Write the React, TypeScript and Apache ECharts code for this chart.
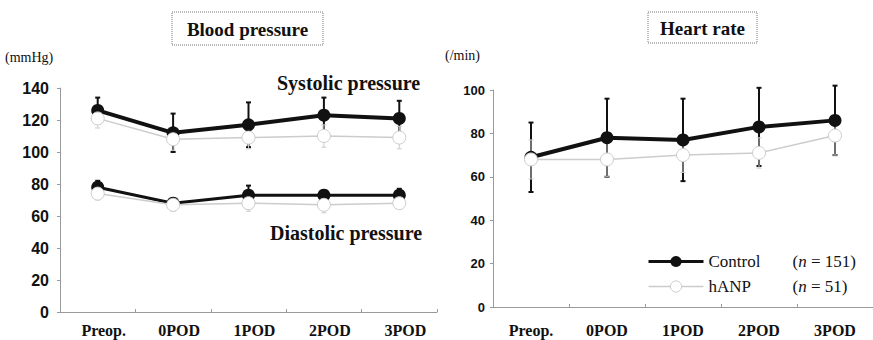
import React, { useEffect, useRef } from "react";
import * as echarts from "echarts";

const categories = ["Preop.", "0POD", "1POD", "2POD", "3POD"];

// Blood pressure (mmHg)
const sysControl = [126, 112, 117, 123, 121];
const sysControlSD = [8, 12, 14, 11, 11];
const sysHanp = [121, 108, 109, 110, 109];
const sysHanpSD = [6, 7, 7, 7, 7];
const diaControl = [78, 68, 73, 73, 73];
const diaControlSD = [4, 3, 6, 3, 4];
const diaHanp = [74, 67, 68, 67, 68];
const diaHanpSD = [4, 4, 5, 5, 3];

// Heart rate (/min)
const hrControl = [69, 78, 77, 83, 86];
const hrControlSD = [16, 18, 19, 18, 16];
const hrHanp = [68, 68, 70, 71, 79];
const hrHanpSD = [9, 8, 8, 7, 9];

const bpTicks = { min: 0, max: 140, interval: 20 };
const hrTicks = { min: 0, max: 100, interval: 20 };

const SERIF = "Liberation Serif";
const SANS = "Liberation Sans";

function errData(mean: number[], sd: number[]) {
  return mean.map((m, i) => [i, m - sd[i], m + sd[i]]);
}

function errSeries(
  name: string,
  mean: number[],
  sd: number[],
  axis: number,
  color: string,
  width: number,
  z: number
) {
  return {
    type: "custom",
    name: name + "-err",
    xAxisIndex: axis,
    yAxisIndex: axis,
    z,
    silent: true,
    data: errData(mean, sd),
    encode: { x: 0, y: [1, 2] },
    renderItem: (params: any, api: any) => {
      const x = api.value(0);
      const lo = api.coord([x, api.value(1)]);
      const hi = api.coord([x, api.value(2)]);
      const cap = 2.5;
      const style = { stroke: color, lineWidth: width };
      return {
        type: "group",
        children: [
          { type: "line", shape: { x1: lo[0], y1: lo[1], x2: hi[0], y2: hi[1] }, style },
          { type: "line", shape: { x1: hi[0] - cap, y1: hi[1], x2: hi[0] + cap, y2: hi[1] }, style },
          { type: "line", shape: { x1: lo[0] - cap, y1: lo[1], x2: lo[0] + cap, y2: lo[1] }, style },
        ],
      };
    },
  };
}

function controlLine(name: string, data: number[], axis: number, width: number) {
  return {
    type: "line",
    name,
    xAxisIndex: axis,
    yAxisIndex: axis,
    data,
    z: 3,
    symbol: "circle",
    symbolSize: 13,
    showSymbol: true,
    lineStyle: { color: "#111", width },
    itemStyle: { color: "#111", borderColor: "#111", borderWidth: 0 },
  };
}

function hanpLine(name: string, data: number[], axis: number) {
  return {
    type: "line",
    name,
    xAxisIndex: axis,
    yAxisIndex: axis,
    data,
    z: 5,
    symbol: "circle",
    symbolSize: 13,
    showSymbol: true,
    lineStyle: { color: "#cccccc", width: 1.5 },
    itemStyle: { color: "#ffffff", borderColor: "#cccccc", borderWidth: 1 },
  };
}

function xAxisDef(grid: number, margin: number, padLeft: number) {
  return {
    gridIndex: grid,
    type: "category",
    data: categories,
    boundaryGap: true,
    axisLine: { show: true, lineStyle: { color: "#9a9a9a", width: 1 } },
    axisTick: { show: true, inside: true, length: 3, lineStyle: { color: "#9a9a9a" } },
    axisLabel: {
      fontFamily: SERIF,
      fontWeight: "bold",
      fontSize: 16,
      color: "#111",
      margin,
      padding: [0, 0, 0, padLeft],
    },
    splitLine: { show: false },
  };
}

function yAxisDef(grid: number, ticks: any, fontSize: number, margin: number) {
  return {
    gridIndex: grid,
    type: "value",
    min: ticks.min,
    max: ticks.max,
    interval: ticks.interval,
    axisLine: { show: true, lineStyle: { color: "#9a9a9a", width: 1 } },
    axisTick: { show: true, inside: false, length: 3, lineStyle: { color: "#9a9a9a" } },
    axisLabel: { fontFamily: SANS, fontWeight: "bold", fontSize, color: "#111", margin },
    splitLine: { show: false },
  };
}

function label(text: string, x: number, y: number, size: number, bold: boolean, align = "left") {
  return {
    type: "text",
    x,
    y,
    style: {
      text,
      fontFamily: SERIF,
      fontSize: size,
      fontWeight: bold ? "bold" : "normal",
      fill: "#111",
      align,
      verticalAlign: "middle",
    },
  };
}

export default function App() {
  const ref = useRef<HTMLDivElement>(null);

  useEffect(() => {
    if (!ref.current) return;
    const chart = echarts.init(ref.current, undefined, { renderer: "svg" });

    const option: any = {
      animation: false,
      backgroundColor: "#ffffff",
      textStyle: { fontFamily: SERIF },
      grid: [
        { left: 60, top: 88, width: 377, height: 224 },
        { left: 493, top: 90, width: 380, height: 217 },
      ],
      xAxis: [xAxisDef(0, 10, 12), xAxisDef(1, 15, 0)],
      yAxis: [yAxisDef(0, bpTicks, 16, 11), yAxisDef(1, hrTicks, 13, 8)],
      legend: {
        orient: "vertical",
        left: 642,
        top: 248,
        itemWidth: 55,
        itemHeight: 14,
        itemGap: 8,
        data: [
          {
            name: "Control",
            lineStyle: { color: "#111", width: 3 },
            itemStyle: { color: "#111" },
          },
          {
            name: "hANP",
            lineStyle: { color: "#cccccc", width: 1.5 },
            itemStyle: { color: "#fff", borderColor: "#cccccc", borderWidth: 1 },
          },
        ],
        formatter: (name: string) => {
          const n = name === "Control" ? "151" : "51";
          return `{a|${name}}{b|(}{i|n}{b| = ${n})}`;
        },
        textStyle: {
          fontFamily: SERIF,
          fontSize: 17,
          color: "#111",
          rich: {
            a: { fontFamily: SERIF, fontSize: 17, color: "#111", width: 84 },
            b: { fontFamily: SERIF, fontSize: 17, color: "#111" },
            i: { fontFamily: SERIF, fontSize: 17, color: "#111", fontStyle: "italic" },
          },
        },
      },
      graphic: [
        {
          type: "rect",
          shape: { x: 172, y: 12, width: 151, height: 33 },
          style: { fill: "none", stroke: "#777", lineWidth: 1, lineDash: [1, 1] },
        },
        label("Blood pressure", 247.5, 29, 19, true, "center"),
        {
          type: "rect",
          shape: { x: 648, y: 12, width: 109, height: 31 },
          style: { fill: "none", stroke: "#777", lineWidth: 1, lineDash: [1, 1] },
        },
        label("Heart rate", 702.5, 28, 19, true, "center"),
        label("(mmHg)", 5, 57, 14, false),
        label("(/min)", 445, 55, 14, false),
        label("Systolic pressure", 277, 83, 20, true),
        label("Diastolic pressure", 270, 233, 20, true),
      ],
      series: [
        // Heart rate (right) first so legend picks these styles
        errSeries("hrC", hrControl, hrControlSD, 1, "#111", 2, 2),
        errSeries("hrH", hrHanp, hrHanpSD, 1, "#cccccc", 1, 2),
        controlLine("Control", hrControl, 1, 4),
        hanpLine("hANP", hrHanp, 1),
        // Blood pressure (left)
        errSeries("sysC", sysControl, sysControlSD, 0, "#111", 2, 2),
        errSeries("sysH", sysHanp, sysHanpSD, 0, "#cccccc", 1, 2),
        errSeries("diaC", diaControl, diaControlSD, 0, "#111", 2, 2),
        errSeries("diaH", diaHanp, diaHanpSD, 0, "#cccccc", 1, 2),
        controlLine("Control", sysControl, 0, 4),
        controlLine("Control", diaControl, 0, 3),
        hanpLine("hANP", sysHanp, 0),
        hanpLine("hANP", diaHanp, 0),
      ],
    };

    chart.setOption(option);
    return () => chart.dispose();
  }, []);

  return (
    <div
      ref={ref}
      style={{ position: "absolute", left: 0, top: 0, width: 873, height: 340, background: "#fff" }}
    />
  );
}
